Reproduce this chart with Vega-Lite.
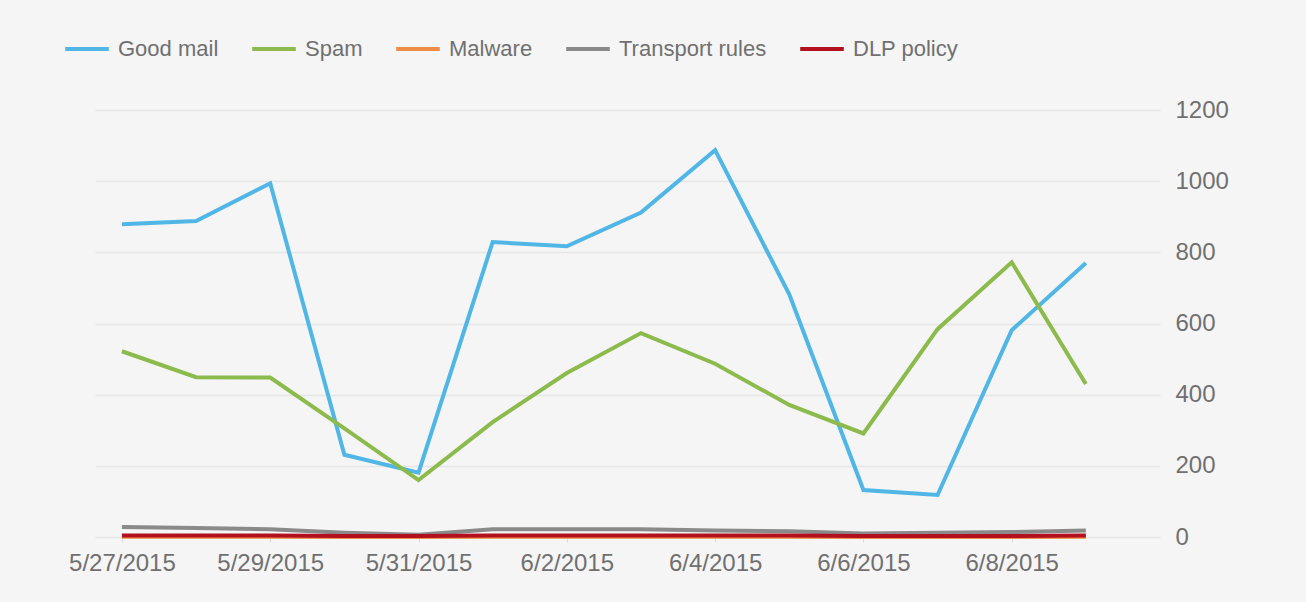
{
  "$schema": "https://vega.github.io/schema/vega-lite/v6.json",
  "width": 1065,
  "height": 427,
  "autosize": "none",
  "padding": {"left": 95, "top": 110, "right": 146, "bottom": 65},
  "background": "#f5f5f5",
  "config": {
    "view": {"stroke": null},
    "font": "Liberation Sans",
    "axis": {"labelFont": "Liberation Sans", "labelColor": "#707070", "labelFontSize": 24}
  },
  "data": {
    "values": [
      {"date": "2015-05-27", "series": "Good mail", "count": 879},
      {"date": "2015-05-28", "series": "Good mail", "count": 888},
      {"date": "2015-05-29", "series": "Good mail", "count": 994},
      {"date": "2015-05-30", "series": "Good mail", "count": 231},
      {"date": "2015-05-31", "series": "Good mail", "count": 181},
      {"date": "2015-06-01", "series": "Good mail", "count": 829},
      {"date": "2015-06-02", "series": "Good mail", "count": 817},
      {"date": "2015-06-03", "series": "Good mail", "count": 912},
      {"date": "2015-06-04", "series": "Good mail", "count": 1087},
      {"date": "2015-06-05", "series": "Good mail", "count": 682},
      {"date": "2015-06-06", "series": "Good mail", "count": 132},
      {"date": "2015-06-07", "series": "Good mail", "count": 118},
      {"date": "2015-06-08", "series": "Good mail", "count": 581},
      {"date": "2015-06-09", "series": "Good mail", "count": 770},
      {"date": "2015-05-27", "series": "Spam", "count": 522},
      {"date": "2015-05-28", "series": "Spam", "count": 449},
      {"date": "2015-05-29", "series": "Spam", "count": 448},
      {"date": "2015-05-30", "series": "Spam", "count": 305},
      {"date": "2015-05-31", "series": "Spam", "count": 160},
      {"date": "2015-06-01", "series": "Spam", "count": 323},
      {"date": "2015-06-02", "series": "Spam", "count": 461},
      {"date": "2015-06-03", "series": "Spam", "count": 573},
      {"date": "2015-06-04", "series": "Spam", "count": 487},
      {"date": "2015-06-05", "series": "Spam", "count": 371},
      {"date": "2015-06-06", "series": "Spam", "count": 291},
      {"date": "2015-06-07", "series": "Spam", "count": 584},
      {"date": "2015-06-08", "series": "Spam", "count": 772},
      {"date": "2015-06-09", "series": "Spam", "count": 430},
      {"date": "2015-05-27", "series": "Malware", "count": 1},
      {"date": "2015-05-28", "series": "Malware", "count": 1},
      {"date": "2015-05-29", "series": "Malware", "count": 1},
      {"date": "2015-05-30", "series": "Malware", "count": 0},
      {"date": "2015-05-31", "series": "Malware", "count": 0},
      {"date": "2015-06-01", "series": "Malware", "count": 1},
      {"date": "2015-06-02", "series": "Malware", "count": 1},
      {"date": "2015-06-03", "series": "Malware", "count": 1},
      {"date": "2015-06-04", "series": "Malware", "count": 1},
      {"date": "2015-06-05", "series": "Malware", "count": 1},
      {"date": "2015-06-06", "series": "Malware", "count": 0},
      {"date": "2015-06-07", "series": "Malware", "count": 0},
      {"date": "2015-06-08", "series": "Malware", "count": 0},
      {"date": "2015-06-09", "series": "Malware", "count": 1},
      {"date": "2015-05-27", "series": "Transport rules", "count": 28},
      {"date": "2015-05-28", "series": "Transport rules", "count": 25},
      {"date": "2015-05-29", "series": "Transport rules", "count": 22},
      {"date": "2015-05-30", "series": "Transport rules", "count": 12},
      {"date": "2015-05-31", "series": "Transport rules", "count": 6},
      {"date": "2015-06-01", "series": "Transport rules", "count": 22},
      {"date": "2015-06-02", "series": "Transport rules", "count": 22},
      {"date": "2015-06-03", "series": "Transport rules", "count": 22},
      {"date": "2015-06-04", "series": "Transport rules", "count": 18},
      {"date": "2015-06-05", "series": "Transport rules", "count": 16},
      {"date": "2015-06-06", "series": "Transport rules", "count": 10},
      {"date": "2015-06-07", "series": "Transport rules", "count": 12},
      {"date": "2015-06-08", "series": "Transport rules", "count": 14},
      {"date": "2015-06-09", "series": "Transport rules", "count": 18},
      {"date": "2015-05-27", "series": "DLP policy", "count": 4},
      {"date": "2015-05-28", "series": "DLP policy", "count": 4},
      {"date": "2015-05-29", "series": "DLP policy", "count": 4},
      {"date": "2015-05-30", "series": "DLP policy", "count": 3},
      {"date": "2015-05-31", "series": "DLP policy", "count": 3},
      {"date": "2015-06-01", "series": "DLP policy", "count": 4},
      {"date": "2015-06-02", "series": "DLP policy", "count": 4},
      {"date": "2015-06-03", "series": "DLP policy", "count": 4},
      {"date": "2015-06-04", "series": "DLP policy", "count": 4},
      {"date": "2015-06-05", "series": "DLP policy", "count": 4},
      {"date": "2015-06-06", "series": "DLP policy", "count": 3},
      {"date": "2015-06-07", "series": "DLP policy", "count": 3},
      {"date": "2015-06-08", "series": "DLP policy", "count": 3},
      {"date": "2015-06-09", "series": "DLP policy", "count": 4}
    ]
  },
  "mark": {"type": "line", "strokeWidth": 4, "clip": false},
  "encoding": {
    "x": {
      "field": "date",
      "type": "temporal",
      "scale": {
        "type": "utc",
        "domain": [
          {"year": 2015, "month": 5, "date": 26, "hours": 15, "minutes": 17, "utc": true},
          {"year": 2015, "month": 6, "date": 10, "hours": 0, "utc": true}
        ]
      },
      "axis": {
        "title": null,
        "values": [
          {"year": 2015, "month": 5, "date": 27, "utc": true},
          {"year": 2015, "month": 5, "date": 29, "utc": true},
          {"year": 2015, "month": 5, "date": 31, "utc": true},
          {"year": 2015, "month": 6, "date": 2, "utc": true},
          {"year": 2015, "month": 6, "date": 4, "utc": true},
          {"year": 2015, "month": 6, "date": 6, "utc": true},
          {"year": 2015, "month": 6, "date": 8, "utc": true}
        ],
        "format": "%-m/%-d/%Y",
        "domain": false,
        "grid": false,
        "ticks": true,
        "tickSize": 5,
        "tickColor": "#dddddd",
        "labelPadding": 9,
        "labelFlush": false,
        "labelOverlap": false
      }
    },
    "y": {
      "field": "count",
      "type": "quantitative",
      "scale": {"domain": [0, 1200], "nice": false},
      "axis": {
        "title": null,
        "orient": "right",
        "values": [0, 200, 400, 600, 800, 1000, 1200],
        "format": "d",
        "domain": false,
        "ticks": false,
        "grid": true,
        "gridColor": "#e6e6e6",
        "gridWidth": 1.5,
        "labelAlign": "left",
        "labelPadding": 15
      }
    },
    "color": {
      "field": "series",
      "type": "nominal",
      "sort": ["Good mail", "Spam", "Malware", "Transport rules", "DLP policy"],
      "scale": {
        "domain": ["Good mail", "Spam", "Malware", "Transport rules", "DLP policy"],
        "range": ["#4fb6e6", "#8cba4c", "#ee8c48", "#8a8a8a", "#b2101e"]
      },
      "legend": {
        "title": null,
        "orient": "none",
        "direction": "horizontal",
        "legendX": -32,
        "legendY": -85,
        "padding": 0,
        "symbolType": "stroke",
        "symbolSize": 1900,
        "symbolStrokeWidth": 4,
        "labelFontSize": 22,
        "labelColor": "#707070",
        "labelFont": "Liberation Sans",
        "labelOffset": 7,
        "columnPadding": 25,
        "labelLimit": 300
      }
    }
  }
}
